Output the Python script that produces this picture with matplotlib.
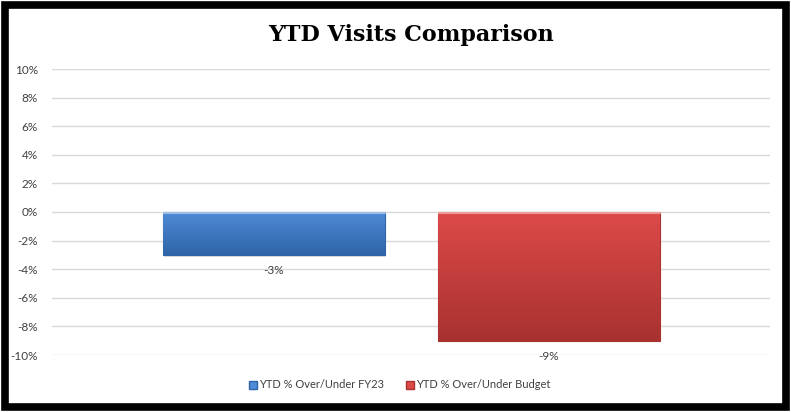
import numpy as np
import matplotlib
matplotlib.use("Agg")
import matplotlib.pyplot as plt
from matplotlib.patches import Rectangle
from matplotlib.ticker import FuncFormatter

title = "YTD Visits Comparison"
series_names = ["YTD % Over/Under FY23", "YTD % Over/Under Budget"]
values = [-0.03, -0.09]
colors_top = ["#4f8ad6", "#dc4a48"]
colors_bottom = ["#2f65a8", "#a83230"]
yticks = [-0.10, -0.08, -0.06, -0.04, -0.02, 0.0, 0.02, 0.04, 0.06, 0.08, 0.10]

plt.rcParams['font.family'] = ['Lato', 'DejaVu Sans']

fig = plt.figure(figsize=(7.91, 4.12), dpi=100)
ax = fig.add_axes([52/791, (412-355)/412, (770-52)/791, (355-69)/412])

bar_w = 0.309
centers = [0.309, 0.692]

for i, (v, name) in enumerate(zip(values, series_names)):
    x0 = centers[i] - bar_w/2
    c1 = np.array(matplotlib.colors.to_rgb(colors_top[i]))
    c2 = np.array(matplotlib.colors.to_rgb(colors_bottom[i]))
    t = np.linspace(0, 1, 64)[:, None]
    grad = (c1[None, :] * (1 - t) + c2[None, :] * t)[:, None, :]
    # soft shadow under the bar
    ax.bar(centers[i] + 0.002, v - 0.0012, width=bar_w, color="#bfbfbf", alpha=0.5, zorder=2.5)
    bar = ax.bar(centers[i], v, width=bar_w, color=colors_top[i], edgecolor=colors_bottom[i],
                 linewidth=0.8, label=name, zorder=3)
    im = ax.imshow(grad, extent=[x0, x0 + bar_w, v, 0], aspect='auto', zorder=3.5, origin='upper')
    im.set_clip_path(bar[0])
    # light top edge for the bevel look
    ax.plot([x0, x0 + bar_w], [-0.0008, -0.0008], color="white", alpha=0.45, lw=1.5, zorder=4)
    ax.text(centers[i], v - 0.011, f"{v*100:.0f}%", ha='center', va='center',
            fontsize=8.5, color="#404040", zorder=5)

ax.set_xlim(0, 1)
ax.set_ylim(-0.10, 0.10)
ax.set_yticks(yticks)
ax.yaxis.set_major_formatter(FuncFormatter(lambda y, p: f"{y*100:.0f}%"))
ax.set_xticks([])
ax.tick_params(axis='y', length=0, labelsize=8.5, labelcolor="#404040", pad=10)
ax.grid(axis='y', color="#d9d9d9", lw=1, zorder=0)
for s in ax.spines.values():
    s.set_visible(False)

fig.text(411/791, 1 - 35/412, title, ha='center', va='center', fontsize=16,
         fontweight='bold', family='DejaVu Serif')

handles = [Rectangle((0, 0), 1, 1, facecolor=colors_top[i], edgecolor=colors_bottom[i])
           for i in range(2)]
fig.legend(handles, series_names, loc='center', bbox_to_anchor=(400/791, 1 - 385/412),
           ncol=2, frameon=False, fontsize=8, handlelength=0.7, handleheight=0.7,
           handletextpad=0.2, columnspacing=2.0, labelcolor="#404040")

fig.patches.append(Rectangle((5/791, 5/412), 781/791, 402/412, transform=fig.transFigure,
                             fill=False, edgecolor="black", linewidth=5.5))

fig.savefig("out.png", dpi=100)
